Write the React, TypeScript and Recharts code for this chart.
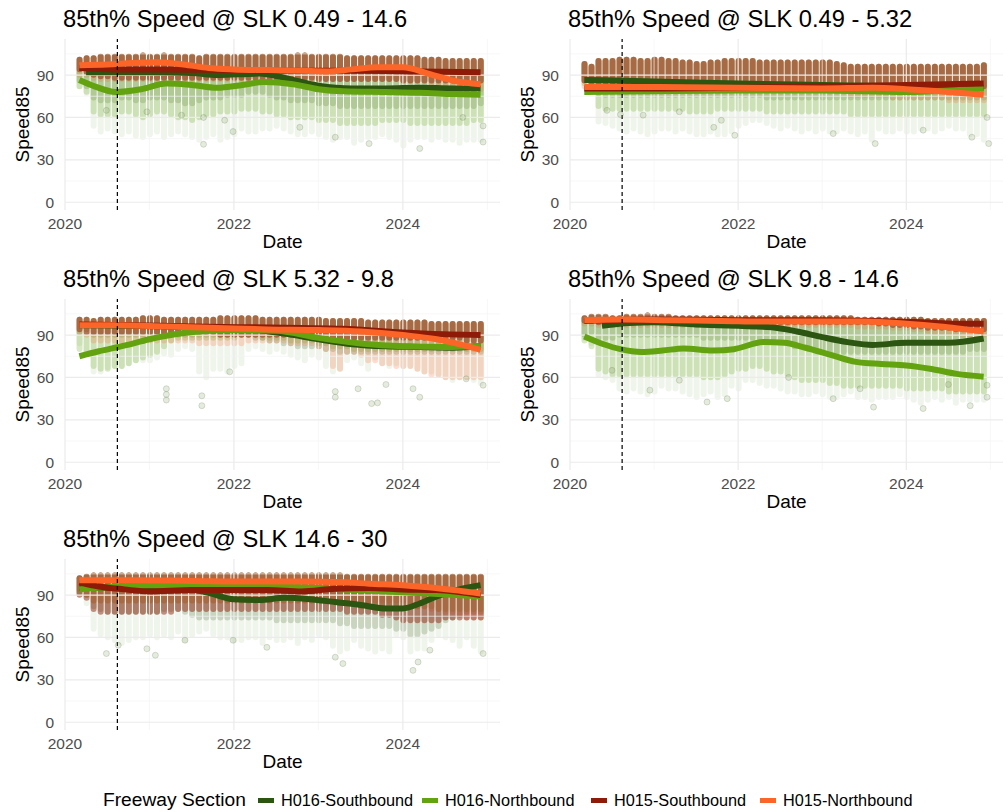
import React from 'react';
import { ComposedChart, Bar, Line, Scatter, XAxis, YAxis, ReferenceLine } from 'recharts';

const FONT = '"Liberation Sans", Arial, Helvetica, sans-serif';

// month columns of the point cloud
const MONTHS = [
  '2020-03', '2020-04', '2020-05', '2020-06', '2020-07', '2020-08', '2020-09', '2020-10', '2020-11', '2020-12',
  '2021-01', '2021-02', '2021-03', '2021-04', '2021-05', '2021-06', '2021-07', '2021-08', '2021-09', '2021-10', '2021-11', '2021-12',
  '2022-01', '2022-02', '2022-03', '2022-04', '2022-05', '2022-06', '2022-07', '2022-08', '2022-09', '2022-10', '2022-11', '2022-12',
  '2023-01', '2023-02', '2023-03', '2023-04', '2023-05', '2023-06', '2023-07', '2023-08', '2023-09', '2023-10', '2023-11', '2023-12',
  '2024-01', '2024-02', '2024-03', '2024-04', '2024-05', '2024-06', '2024-07', '2024-08', '2024-09', '2024-10', '2024-11', '2024-12',
];

const SERIES_NAMES = ['H016-Southbound', 'H016-Northbound', 'H015-Southbound', 'H015-Northbound'];
const X_TICKS = [2020, 2022, 2024];
const Y_TICKS = [0, 30, 60, 90];
const CUTOFF_DATE = 2020.62;

// ---- SLK 0.49 - 14.6 ----
const p1Top = [103, 104, 104, 105, 105, 105, 105, 105, 105, 106, 105, 105, 106, 105, 105, 105, 105, 104, 105, 105, 105, 105, 105, 105, 105, 105, 105, 105, 105, 105, 105, 106, 106, 105, 105, 105, 105, 105, 104, 104, 104, 104, 104, 104, 104, 104, 104, 104, 104, 103, 103, 103, 102, 102, 102, 102, 102, 102];
const p1Floor = [80, 75, 52, 48, 50, 48, 46, 48, 45, 44, 46, 48, 44, 46, 48, 46, 44, 42, 44, 46, 42, 44, 46, 50, 48, 48, 50, 50, 52, 50, 48, 46, 46, 48, 46, 44, 42, 44, 44, 40, 42, 44, 44, 46, 44, 42, 38, 42, 44, 44, 42, 44, 42, 42, 40, 42, 42, 42];
const p1S16 = [84, 80, 72, 70, 70, 70, 72, 72, 70, 70, 72, 72, 72, 70, 70, 68, 68, 70, 72, 72, 72, 74, 74, 74, 76, 76, 76, 74, 72, 72, 70, 70, 70, 70, 68, 68, 68, 66, 66, 66, 66, 66, 66, 66, 66, 66, 66, 66, 66, 66, 66, 66, 66, 66, 66, 66, 66, 68];
const p1N16 = [80, 76, 62, 60, 60, 60, 62, 62, 60, 58, 60, 62, 62, 60, 58, 58, 56, 58, 60, 60, 62, 62, 62, 64, 64, 64, 62, 62, 60, 60, 58, 58, 58, 58, 56, 56, 56, 54, 54, 54, 54, 54, 54, 56, 56, 56, 56, 54, 54, 54, 54, 54, 54, 54, 54, 54, 56, 56];
const p1S15 = [92, 90, 88, 87, 87, 86, 86, 86, 86, 86, 86, 86, 86, 86, 86, 86, 86, 86, 86, 86, 86, 86, 86, 86, 86, 86, 86, 86, 86, 86, 86, 86, 86, 86, 85, 85, 85, 85, 85, 85, 85, 85, 85, 85, 85, 85, 84, 84, 84, 84, 84, 84, 84, 84, 84, 84, 84, 84];
const p1N15 = [88, 88, 86, 85, 85, 85, 85, 85, 85, 85, 85, 85, 85, 85, 85, 85, 85, 85, 85, 85, 85, 85, 85, 85, 85, 85, 85, 85, 85, 85, 85, 85, 85, 85, 85, 85, 85, 85, 85, 85, 85, 85, 85, 85, 85, 85, 84, 84, 84, 84, 82, 82, 80, 80, 78, 78, 78, 78];
const p1Stray = [[2020.49, 65], [2020.97, 64], [2021.38, 61.6], [2021.64, 60], [2021.89, 58], [2021.99, 50], [2021.64, 41], [2022.78, 53], [2023.2, 46], [2023.6, 41.5], [2024.2, 38], [2024.71, 60], [2024.95, 42.6], [2024.95, 54]];
const p1LineS16 = [[2020.25, 92], [2020.6, 92], [2021.0, 92], [2021.5, 91.5], [2021.8, 90], [2022.3, 91], [2022.6, 88], [2023.0, 82.5], [2023.4, 80.5], [2023.8, 80.5], [2024.2, 81], [2024.6, 80.5], [2024.92, 80.5]];
const p1LineN16 = [[2020.17, 86.5], [2020.35, 82], [2020.6, 78], [2020.9, 80], [2021.2, 84], [2021.5, 83], [2021.8, 81], [2022.1, 83], [2022.35, 85], [2022.7, 83.5], [2023.0, 80], [2023.3, 78.5], [2023.8, 78], [2024.2, 77.5], [2024.6, 76.5], [2024.92, 76]];
const p1LineS15 = [[2020.17, 95], [2020.6, 94], [2021.2, 94], [2022.0, 93.5], [2022.8, 93], [2023.5, 93], [2024.2, 92.5], [2024.92, 92]];
const p1LineN15 = [[2020.17, 97], [2020.5, 97.5], [2020.8, 98.5], [2021.1, 99], [2021.4, 97.5], [2021.7, 95], [2022.0, 94], [2022.4, 93.5], [2022.8, 93], [2023.1, 92.5], [2023.4, 94], [2023.7, 95.5], [2024.0, 95.5], [2024.3, 91], [2024.6, 86], [2024.92, 83.5]];

// ---- SLK 0.49 - 5.32 ----
const p2Top = [100, 98, 102, 102, 102, 103, 103, 103, 102, 102, 103, 103, 102, 102, 101, 101, 100, 100, 101, 101, 102, 102, 102, 102, 102, 101, 101, 101, 101, 101, 101, 101, 101, 101, 101, 101, 100, 99, 98, 98, 98, 98, 98, 98, 98, 98, 98, 98, 98, 98, 98, 98, 98, 98, 98, 98, 98, 99];
const p2Floor = [85, 80, 55, 54, 52, 50, 48, 50, 48, 46, 48, 50, 50, 48, 50, 48, 46, 46, 48, 46, 46, 48, 52, 54, 56, 56, 54, 52, 50, 52, 50, 48, 50, 48, 50, 48, 48, 50, 48, 46, 48, 42, 50, 48, 48, 50, 48, 48, 50, 50, 48, 50, 52, 50, 50, 46, 46, 42];
const p2S16 = [84, 82, 75, 74, 74, 74, 74, 74, 74, 74, 74, 74, 74, 74, 74, 74, 74, 74, 74, 74, 74, 74, 74, 74, 74, 74, 72, 72, 72, 72, 72, 72, 72, 72, 72, 72, 72, 72, 72, 72, 72, 72, 72, 72, 72, 72, 72, 72, 72, 72, 72, 72, 72, 72, 72, 72, 72, 72];
const p2N16 = [82, 80, 66, 64, 64, 64, 64, 64, 64, 64, 64, 64, 64, 64, 64, 62, 62, 62, 62, 64, 64, 64, 64, 64, 64, 64, 62, 62, 62, 62, 62, 62, 62, 62, 62, 62, 62, 62, 60, 60, 60, 60, 60, 60, 60, 60, 60, 60, 60, 60, 60, 60, 60, 60, 60, 60, 60, 60];
const p2S15 = [84, 82, 80, 80, 80, 80, 80, 80, 80, 80, 80, 80, 80, 80, 80, 80, 80, 80, 80, 80, 80, 80, 80, 80, 80, 80, 80, 80, 80, 80, 80, 80, 80, 80, 80, 80, 80, 80, 80, 80, 80, 80, 80, 80, 80, 80, 80, 80, 80, 80, 80, 80, 80, 80, 80, 80, 80, 80];
const p2N15 = [80, 80, 76, 76, 76, 76, 76, 76, 76, 76, 76, 76, 76, 76, 76, 76, 76, 76, 76, 76, 76, 76, 76, 76, 76, 76, 76, 76, 76, 76, 76, 76, 76, 76, 76, 76, 76, 76, 74, 74, 74, 74, 74, 74, 72, 72, 72, 72, 72, 72, 72, 72, 70, 70, 70, 70, 70, 70];
const p2Stray = [[2020.44, 65], [2020.6, 62], [2020.87, 61.6], [2021.3, 64], [2021.71, 53], [2021.8, 58], [2021.96, 47.4], [2023.13, 48.6], [2023.63, 41.5], [2024.2, 51], [2024.78, 46], [2024.98, 41.5], [2024.96, 60]];
const p2LineS16 = [[2020.17, 86.5], [2021.0, 85.5], [2022.0, 84], [2023.0, 83], [2024.0, 82], [2024.92, 81]];
const p2LineN16 = [[2020.17, 78], [2021.0, 78.5], [2022.0, 79], [2023.0, 79], [2024.0, 78], [2024.5, 79], [2024.92, 80.5]];
const p2LineS15 = [[2020.17, 80.5], [2021.0, 80.5], [2022.0, 81], [2023.0, 82], [2024.0, 83], [2024.92, 84]];
const p2LineN15 = [[2020.17, 81.5], [2021.0, 81.5], [2022.0, 81], [2023.0, 80.5], [2023.6, 81], [2024.0, 80], [2024.5, 78], [2024.92, 76]];

// ---- SLK 5.32 - 9.8 ----
const p3Top = [103, 103, 102, 103, 103, 103, 103, 103, 103, 104, 104, 104, 103, 103, 103, 103, 103, 103, 103, 103, 104, 104, 104, 104, 104, 104, 103, 103, 103, 103, 103, 103, 103, 103, 103, 102, 102, 102, 102, 102, 102, 101, 101, 101, 101, 101, 101, 101, 101, 101, 100, 100, 100, 100, 100, 100, 100, 100];
const p3Floor = [82, 75, 62, 62, 65, 66, 66, 68, 70, 70, 70, 72, 75, 74, 78, 80, 78, 62, 58, 64, 64, 62, 66, 68, 78, 80, 78, 76, 78, 76, 74, 72, 70, 74, 72, 66, 62, 64, 70, 72, 68, 64, 72, 68, 66, 68, 66, 66, 64, 62, 62, 60, 58, 56, 58, 58, 56, 54];
const p3S16 = [90, 92, 88, 88, 88, 88, 88, 88, 88, 88, 88, 88, 88, 88, 88, 88, 88, 88, 88, 88, 88, 88, 88, 88, 88, 86, 86, 84, 84, 82, 82, 80, 80, 80, 80, 78, 78, 76, 76, 76, 76, 76, 76, 76, 76, 76, 76, 76, 76, 76, 76, 76, 76, 76, 76, 76, 76, 76];
const p3N16 = [78, 76, 66, 64, 64, 66, 66, 68, 70, 72, 74, 76, 80, 84, 86, 86, 86, 86, 86, 86, 86, 86, 86, 88, 88, 88, 86, 86, 86, 86, 84, 84, 84, 84, 82, 82, 80, 80, 80, 78, 78, 78, 78, 78, 78, 78, 78, 78, 78, 78, 78, 78, 78, 78, 78, 78, 78, 78];
const p3S15 = [92, 90, 90, 90, 90, 90, 90, 90, 90, 90, 90, 90, 90, 90, 90, 90, 90, 90, 90, 90, 88, 88, 88, 88, 88, 88, 88, 88, 88, 88, 88, 88, 88, 88, 88, 88, 86, 86, 86, 86, 86, 86, 86, 86, 86, 86, 86, 86, 86, 86, 86, 86, 86, 86, 86, 84, 84, 84];
const p3N15 = [90, 88, 84, 84, 84, 84, 84, 84, 84, 84, 84, 84, 84, 84, 84, 84, 84, 82, 82, 82, 82, 82, 82, 82, 84, 84, 84, 84, 84, 84, 82, 82, 82, 82, 80, 78, 66, 64, 76, 76, 74, 70, 70, 68, 68, 66, 66, 66, 64, 62, 60, 60, 58, 58, 58, 58, 58, 58];
const p3Stray = [[2021.2, 52], [2021.2, 44], [2021.2, 48], [2021.62, 40], [2021.62, 47], [2021.95, 64], [2023.2, 46], [2023.2, 50], [2023.47, 52], [2023.63, 41.5], [2023.7, 42], [2023.8, 55], [2024.2, 46], [2024.12, 52], [2024.75, 59], [2024.95, 54.5]];
const p3LineS16 = [[2020.17, 97], [2020.8, 96.5], [2021.5, 95.5], [2022.2, 94], [2022.6, 91], [2023.0, 87], [2023.4, 83.5], [2023.8, 82], [2024.2, 81.5], [2024.6, 81], [2024.92, 82]];
const p3LineN16 = [[2020.17, 75], [2020.4, 78.5], [2020.7, 82.5], [2021.0, 87], [2021.3, 90.5], [2021.6, 92.5], [2022.0, 93.5], [2022.5, 93], [2023.0, 88], [2023.5, 84], [2024.0, 82], [2024.5, 81.5], [2024.92, 82]];
const p3LineS15 = [[2020.17, 97.5], [2020.8, 97], [2021.5, 96], [2022.2, 95.5], [2022.8, 95], [2023.3, 94.5], [2023.8, 92.5], [2024.3, 91], [2024.92, 90]];
const p3LineN15 = [[2020.17, 97], [2020.6, 97], [2021.2, 96], [2021.8, 95], [2022.4, 94], [2023.0, 93.5], [2023.5, 92.5], [2024.0, 90], [2024.4, 87], [2024.7, 83], [2024.92, 79.5]];

// ---- SLK 9.8 - 14.6 ----
const p4Top = [104, 105, 105, 105, 104, 104, 105, 105, 105, 106, 105, 105, 105, 104, 104, 104, 104, 104, 104, 104, 104, 104, 104, 104, 104, 104, 104, 104, 104, 104, 104, 104, 104, 104, 104, 104, 104, 104, 104, 103, 103, 103, 103, 103, 103, 103, 103, 103, 103, 102, 102, 102, 102, 102, 102, 102, 102, 102];
const p4Floor = [86, 82, 60, 58, 56, 50, 48, 50, 48, 46, 48, 52, 50, 50, 48, 46, 44, 46, 48, 44, 46, 52, 50, 56, 56, 54, 52, 52, 50, 48, 48, 46, 46, 48, 46, 44, 44, 46, 48, 44, 44, 42, 44, 44, 44, 46, 44, 42, 40, 42, 44, 42, 44, 40, 42, 42, 42, 42];
const p4S16 = [88, 90, 86, 86, 86, 88, 88, 88, 88, 88, 88, 88, 88, 88, 88, 88, 88, 86, 86, 86, 86, 86, 86, 86, 86, 86, 86, 86, 84, 82, 80, 80, 78, 78, 78, 76, 76, 76, 76, 76, 76, 76, 76, 76, 76, 76, 76, 76, 76, 76, 76, 76, 76, 76, 76, 78, 78, 78];
const p4N16 = [84, 80, 64, 62, 60, 60, 60, 60, 60, 60, 60, 60, 60, 60, 60, 60, 60, 58, 58, 58, 60, 62, 64, 64, 66, 66, 64, 62, 62, 60, 58, 56, 56, 56, 56, 54, 54, 52, 52, 52, 52, 52, 52, 52, 52, 52, 50, 50, 50, 50, 50, 50, 48, 48, 48, 48, 48, 48];
const p4S15 = [98, 98, 97, 97, 97, 97, 97, 97, 97, 97, 97, 97, 97, 97, 97, 97, 97, 97, 97, 97, 97, 97, 97, 97, 97, 97, 97, 97, 97, 97, 97, 97, 97, 97, 97, 97, 97, 97, 97, 97, 97, 97, 96, 96, 95, 95, 95, 94, 94, 93, 93, 93, 93, 92, 92, 92, 92, 92];
const p4N15 = [96, 96, 95, 95, 95, 95, 95, 95, 95, 95, 95, 95, 95, 95, 95, 95, 95, 95, 95, 95, 95, 95, 95, 95, 95, 95, 95, 95, 95, 95, 95, 95, 95, 95, 95, 95, 95, 95, 95, 94, 94, 94, 94, 94, 93, 93, 93, 92, 92, 91, 90, 90, 89, 89, 88, 88, 88, 88];
const p4Stray = [[2020.5, 65], [2020.95, 51], [2021.3, 58], [2021.63, 42.6], [2021.87, 45], [2022.6, 60], [2023.13, 45], [2023.45, 52], [2023.61, 39], [2024.2, 38], [2024.5, 55], [2024.76, 40], [2024.96, 46], [2024.96, 54.5]];
const p4LineS16 = [[2020.38, 96.5], [2020.7, 98.5], [2021.0, 99], [2021.5, 97.5], [2022.0, 96.5], [2022.4, 95.5], [2022.7, 92.5], [2023.0, 88.5], [2023.3, 85], [2023.6, 83], [2024.0, 84.5], [2024.5, 84.5], [2024.92, 87.5]];
const p4LineN16 = [[2020.17, 89], [2020.4, 83.5], [2020.6, 80], [2020.85, 78], [2021.1, 79], [2021.35, 80.5], [2021.7, 79], [2021.95, 80], [2022.3, 85], [2022.55, 84.5], [2022.8, 81], [2023.1, 76], [2023.4, 71], [2023.7, 69.5], [2024.0, 68.5], [2024.3, 66], [2024.6, 62.5], [2024.92, 60.5]];
const p4LineS15 = [[2020.17, 100], [2021.0, 101], [2022.0, 100.5], [2023.0, 100.5], [2023.6, 100], [2024.2, 99], [2024.6, 98], [2024.92, 98]];
const p4LineN15 = [[2020.17, 100.5], [2020.6, 101], [2021.2, 100.5], [2021.8, 100], [2022.4, 99.5], [2023.0, 99.5], [2023.5, 99.5], [2024.0, 98], [2024.4, 96], [2024.7, 94], [2024.92, 92.5]];

// ---- SLK 14.6 - 30 ----
const p5Top = [104, 105, 106, 106, 106, 106, 106, 106, 106, 106, 106, 106, 106, 106, 106, 106, 106, 106, 106, 106, 106, 106, 106, 106, 106, 106, 106, 106, 106, 106, 106, 106, 106, 106, 106, 106, 106, 106, 105, 105, 105, 105, 105, 105, 105, 105, 105, 105, 105, 105, 105, 105, 105, 105, 105, 105, 105, 105];
const p5Floor = [88, 82, 64, 60, 58, 56, 54, 56, 58, 58, 60, 58, 60, 58, 62, 56, 60, 62, 64, 60, 58, 58, 56, 56, 58, 58, 54, 58, 56, 56, 58, 54, 58, 56, 60, 58, 52, 48, 50, 56, 52, 50, 48, 50, 48, 60, 58, 48, 50, 50, 56, 60, 58, 56, 52, 58, 52, 48];
const p5S16 = [90, 88, 80, 78, 76, 76, 76, 76, 76, 76, 76, 76, 78, 78, 78, 76, 74, 72, 72, 72, 72, 72, 72, 72, 72, 72, 72, 72, 70, 70, 70, 70, 70, 70, 70, 70, 70, 68, 68, 66, 66, 66, 66, 66, 66, 64, 64, 60, 60, 62, 64, 66, 70, 72, 74, 76, 76, 76];
const p5N16 = [90, 88, 84, 84, 84, 84, 84, 84, 84, 84, 84, 84, 84, 84, 84, 84, 84, 84, 84, 84, 84, 84, 84, 84, 84, 84, 84, 84, 84, 84, 84, 84, 84, 84, 84, 84, 84, 82, 82, 82, 80, 80, 80, 80, 80, 80, 80, 80, 80, 80, 80, 78, 78, 78, 78, 78, 78, 78];
const p5S15 = [88, 86, 78, 76, 76, 76, 76, 76, 76, 76, 76, 76, 76, 76, 78, 78, 78, 78, 78, 78, 78, 78, 78, 78, 78, 78, 78, 78, 78, 78, 78, 78, 78, 78, 78, 78, 78, 78, 76, 76, 76, 76, 76, 74, 74, 72, 70, 70, 70, 70, 70, 70, 72, 72, 72, 72, 72, 72];
const p5N15 = [92, 88, 84, 84, 84, 84, 84, 84, 84, 84, 84, 84, 84, 84, 84, 84, 84, 84, 84, 84, 84, 84, 84, 84, 84, 84, 84, 84, 84, 84, 84, 84, 84, 84, 84, 84, 84, 84, 84, 84, 84, 84, 84, 84, 84, 84, 84, 82, 80, 80, 78, 78, 76, 76, 74, 72, 72, 72];
const p5Stray = [[2020.49, 48.6], [2020.63, 54.5], [2020.97, 52], [2021.07, 47.4], [2021.42, 58], [2021.99, 58], [2022.39, 53], [2023.2, 46], [2023.29, 41.5], [2024.12, 36.7], [2024.18, 42.6], [2024.32, 51], [2024.95, 48.6]];
const p5LineS16 = [[2020.17, 95], [2020.6, 95.5], [2021.0, 96], [2021.4, 95], [2021.7, 91.5], [2022.0, 87], [2022.3, 86.5], [2022.6, 88], [2022.9, 87], [2023.2, 85], [2023.5, 83], [2023.8, 80.5], [2024.0, 80.5], [2024.2, 84], [2024.4, 89], [2024.7, 94.5], [2024.92, 97]];
const p5LineN16 = [[2020.17, 94], [2020.6, 96], [2021.0, 97], [2021.6, 96], [2022.2, 96], [2022.8, 95.5], [2023.3, 94], [2023.8, 92.5], [2024.3, 91], [2024.92, 89]];
const p5LineS15 = [[2020.17, 99], [2020.4, 96], [2020.7, 94], [2021.0, 92.5], [2021.5, 93.5], [2022.0, 93.5], [2022.4, 93.5], [2022.8, 92.5], [2023.2, 94.5], [2023.6, 95], [2024.0, 94], [2024.4, 93.5], [2024.92, 90]];
const p5LineN15 = [[2020.17, 100.5], [2020.8, 100.5], [2021.5, 100], [2022.2, 99.5], [2022.8, 99.5], [2023.3, 99], [2023.6, 98], [2024.0, 97], [2024.3, 95.5], [2024.6, 93.5], [2024.92, 91]];

const COLORS = ['#2b5510', '#62a30f', '#8e1b07', '#fb6527'];
const CLOUD_OPACITY = [0.2, 0.24, 0.48, 0.22];

const toYear = (m: string) => {
  const [y, mo] = m.split('-').map(Number);
  return y + (mo - 1) / 12;
};

function buildRows(top: number[], floor: number[], lows: number[][]) {
  return MONTHS.map((m, i) => ({
    x: toYear(m),
    haze: [floor[i], top[i]],
    c0: [lows[0][i], top[i]],
    c1: [lows[1][i], top[i]],
    c2: [lows[2][i], top[i]],
    c3: [lows[3][i], top[i]],
  }));
}

const toPts = (arr: number[][]) => arr.map(([x, y]) => ({ x, y }));

const PLOT_H = 171;
const PANELS = [
  {
    title: '85th% Speed @ SLK 0.49 - 14.6', left: 65, top: 39, w: 435,
    rows: buildRows(p1Top, p1Floor, [p1S16, p1N16, p1S15, p1N15]),
    stray: p1Stray,
    lines: [p1LineS16, p1LineN16, p1LineS15, p1LineN15],
  },
  {
    title: '85th% Speed @ SLK 0.49 - 5.32', left: 570, top: 39, w: 433,
    rows: buildRows(p2Top, p2Floor, [p2S16, p2N16, p2S15, p2N15]),
    stray: p2Stray,
    lines: [p2LineS16, p2LineN16, p2LineS15, p2LineN15],
  },
  {
    title: '85th% Speed @ SLK 5.32 - 9.8', left: 65, top: 299, w: 435,
    rows: buildRows(p3Top, p3Floor, [p3S16, p3N16, p3S15, p3N15]),
    stray: p3Stray,
    lines: [p3LineS16, p3LineN16, p3LineS15, p3LineN15],
  },
  {
    title: '85th% Speed @ SLK 9.8 - 14.6', left: 570, top: 299, w: 433,
    rows: buildRows(p4Top, p4Floor, [p4S16, p4N16, p4S15, p4N15]),
    stray: p4Stray,
    lines: [p4LineS16, p4LineN16, p4LineS15, p4LineN15],
  },
  {
    title: '85th% Speed @ SLK 14.6 - 30', left: 65, top: 559, w: 435,
    rows: buildRows(p5Top, p5Floor, [p5S16, p5N16, p5S15, p5N15]),
    stray: p5Stray,
    lines: [p5LineS16, p5LineN16, p5LineS15, p5LineN15],
  },
];

const X_DOMAIN = [2020, 2025.15];
const Y_DOMAIN = [-5.5, 115.5];
const AXIS_W = 60;
const AXIS_H = 30;

// cloud draw order: dark green, light green, orange, dark red
const CLOUD_ORDER = [0, 1, 3, 2];

const Dot = (props: any) => (
  <circle cx={props.cx} cy={props.cy} r={3} fill="#7d9a60" fillOpacity={0.2}
    stroke="#6a8550" strokeOpacity={0.25} strokeWidth={1} />
);

function Panel({ p }: { p: typeof PANELS[number] }) {
  const hiddenAxes = ['haze', 'c0', 'c1', 'c2', 'c3'];
  return (
    <div style={{ position: 'absolute', left: p.left - AXIS_W, top: p.top }}>
      <ComposedChart width={AXIS_W + p.w} height={PLOT_H + AXIS_H} data={p.rows}
        margin={{ top: 0, right: 0, bottom: 0, left: 0 }}>
        <XAxis xAxisId="main" type="number" dataKey="x" domain={X_DOMAIN} allowDataOverflow
          ticks={X_TICKS} interval={0} height={AXIS_H} axisLine={false} tickLine={false}
          tick={{ fontSize: 15.5, fill: '#4d4d4d', fontFamily: FONT }} />
        {hiddenAxes.map((id) => (
          <XAxis key={id} xAxisId={id} type="number" dataKey="x" domain={X_DOMAIN} allowDataOverflow
            hide orientation="top" height={0} />
        ))}
        <YAxis type="number" dataKey="y" domain={Y_DOMAIN} allowDataOverflow ticks={Y_TICKS} interval={0}
          width={AXIS_W} axisLine={false} tickLine={false} tickMargin={5}
          tick={{ fontSize: 15.5, fill: '#4d4d4d', fontFamily: FONT }} />

        {[15, 45, 75, 105].map((v) => (
          <ReferenceLine key={'hm' + v} xAxisId="main" y={v} stroke="#f3f3f3" strokeWidth={0.7} />
        ))}
        {[2021, 2023, 2025].map((v) => (
          <ReferenceLine key={'vm' + v} xAxisId="main" x={v} stroke="#f3f3f3" strokeWidth={0.7} />
        ))}
        {Y_TICKS.map((v) => (
          <ReferenceLine key={'h' + v} xAxisId="main" y={v} stroke="#ebebeb" strokeWidth={1.2} />
        ))}
        {X_TICKS.map((v) => (
          <ReferenceLine key={'v' + v} xAxisId="main" x={v} stroke="#ebebeb" strokeWidth={1.2} />
        ))}

        <Bar xAxisId="haze" dataKey="haze" barSize={6} radius={3} fill="#8db36a" fillOpacity={0.13}
          isAnimationActive={false} />
        {CLOUD_ORDER.map((s) => (
          <Bar key={'c' + s} xAxisId={'c' + s} dataKey={'c' + s} barSize={6} radius={3}
            fill={COLORS[s]} fillOpacity={CLOUD_OPACITY[s]} isAnimationActive={false} />
        ))}
        <Scatter xAxisId="main" data={toPts(p.stray)} dataKey="y" shape={Dot} isAnimationActive={false} />

        {p.lines.map((pts, s) => (
          <Line key={'l' + s} xAxisId="main" data={toPts(pts)} dataKey="y" type="monotone"
            stroke={COLORS[s]} strokeWidth={6} dot={false} activeDot={false}
            isAnimationActive={false} />
        ))}

        <ReferenceLine xAxisId="main" x={CUTOFF_DATE} stroke="#000" strokeWidth={1.2}
          strokeDasharray="4 3" />
      </ComposedChart>
    </div>
  );
}

export default function App() {
  const legendX = [258, 422, 591, 760];
  return (
    <div style={{ position: 'absolute', left: 0, top: 0, width: 1008, height: 812, background: '#fff', fontFamily: FONT }}>
      {PANELS.map((p, i) => <Panel key={i} p={p} />)}
      <svg width={1008} height={812} style={{ position: 'absolute', left: 0, top: 0, pointerEvents: 'none' }}
        fontFamily={FONT}>
        {PANELS.map((p, i) => (
          <g key={i}>
            <text x={p.left - 2} y={p.top - 12.3} fontSize={23.7} fill="#000">{p.title}</text>
            <text x={p.left + p.w / 2} y={p.top + 209} fontSize={19} fill="#000" textAnchor="middle">Date</text>
            <text x={0} y={0} fontSize={19} fill="#000" textAnchor="middle"
              transform={`translate(${p.left - 36}, ${p.top + PLOT_H / 2}) rotate(-90)`}>Speed85</text>
          </g>
        ))}
        <text x={103} y={806} fontSize={19.2} fill="#000">Freeway Section</text>
        {SERIES_NAMES.map((name, i) => (
          <g key={name}>
            <rect x={legendX[i]} y={798} width={16} height={5} fill={COLORS[i]} />
            <text x={legendX[i] + 23} y={806} fontSize={16.3} fill="#000">{name}</text>
          </g>
        ))}
      </svg>
    </div>
  );
}
